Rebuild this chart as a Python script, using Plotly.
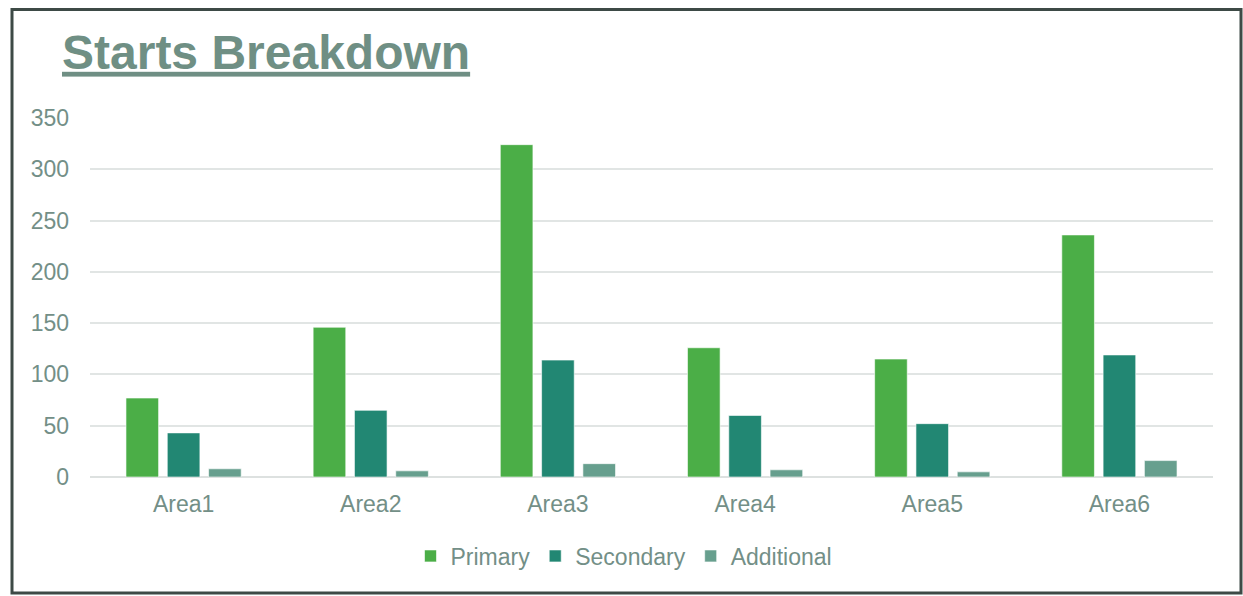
import plotly.graph_objects as go

categories = ["Area1", "Area2", "Area3", "Area4", "Area5", "Area6"]
primary = [77, 146, 324, 126, 115, 236]
secondary = [43, 65, 114, 60, 52, 119]
additional = [8, 6, 13, 7, 5, 16]
series_names = ["Primary", "Secondary", "Additional"]
series_colors = ["#4BAE47", "#228773", "#679F8E"]
y_ticks = [0, 50, 100, 150, 200, 250, 300, 350]

TEXT = "#738F87"
FONT = "Liberation Sans, Arial, sans-serif"

fig = go.Figure()
for name, vals, col in zip(series_names, [primary, secondary, additional], series_colors):
    fig.add_trace(go.Bar(
        x=categories, y=vals, name=name,
        marker=dict(color=col, line=dict(color="rgba(255,255,255,0.6)", width=1)),
    ))

W, H = 1243, 596
L, R, T, B = 90, 30, 118, 119
pw, ph = W - L - R, H - T - B

def px_x(px):
    return (px - L) / pw

def px_y(py):
    return (H - B - py) / ph

fig.update_layout(
    width=W, height=H,
    margin=dict(l=L, r=R, t=T, b=B, pad=0),
    paper_bgcolor="white", plot_bgcolor="white",
    barmode="group", bargap=0.338, bargroupgap=0.21,
    font=dict(family=FONT, color=TEXT, size=23),
    title=dict(
        text="<b><u>Starts Breakdown</u></b>",
        font=dict(family=FONT, size=48, color="#6F8F84"),
        x=62 / W, xanchor="left", xref="container",
        y=1 - 52 / H, yanchor="middle", yref="container",
    ),
    showlegend=True,
    legend=dict(
        orientation="h", x=px_x(624), xanchor="center",
        y=px_y(556), yanchor="middle",
        font=dict(size=23, color=TEXT),
        bgcolor="rgba(0,0,0,0)",
    ),
    xaxis=dict(
        showgrid=False, showline=False, zeroline=False,
        ticks="", ticklabelstandoff=11,
        tickfont=dict(size=23, color=TEXT),
    ),
    yaxis=dict(
        range=[0, 350], tickvals=y_ticks,
        showgrid=True, gridcolor="#E1E5E4", gridwidth=2,
        zeroline=True, zerolinecolor="#DDE1E0", zerolinewidth=2,
        showline=False, ticks="", ticklabelstandoff=20,
        tickfont=dict(size=23, color=TEXT),
    ),
    shapes=[dict(
        type="rect", xref="paper", yref="paper",
        x0=px_x(12), x1=px_x(1241), y0=px_y(593), y1=px_y(9.5),
        line=dict(color="#3D4A46", width=3), fillcolor="rgba(0,0,0,0)", layer="below",
    )],
)

fig.write_html("out.html")
